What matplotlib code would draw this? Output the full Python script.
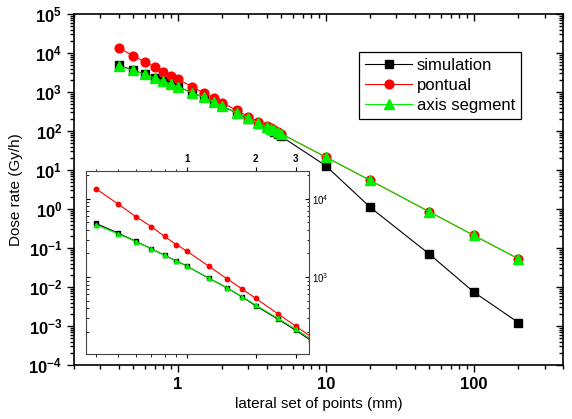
import matplotlib
matplotlib.use("Agg")
import matplotlib.pyplot as plt
from matplotlib.ticker import LogLocator, FixedLocator, FixedFormatter, NullFormatter, LogFormatterMathtext

plt.rcParams["font.family"] = ["Liberation Sans", "DejaVu Sans"]
plt.rcParams["mathtext.fontset"] = "custom"
plt.rcParams["mathtext.rm"] = "Liberation Sans"
plt.rcParams["mathtext.bf"] = "Liberation Sans:bold"

# lateral distance (mm)
distance = [0.4, 0.5, 0.6, 0.7, 0.8, 0.9, 1.0, 1.25, 1.5, 1.75, 2.0, 2.5, 3.0, 3.5,
            4.0, 4.25, 4.5, 4.75, 5.0, 10, 20, 50, 100, 200]

# dose rate (Gy/h)
simulation = [4850, 3650, 2850, 2300, 1890, 1610, 1380, 965, 725, 555, 430, 291, 208, 154,
              120, 106, 94, 84, 73, 12.9, 1.1, 0.070, 0.0074, 0.00122]
pontual = [13500, 8600, 5900, 4400, 3300, 2600, 2150, 1370, 950, 700, 535, 340, 235, 172,
           132, 117, 104, 94, 85, 21.5, 5.4, 0.85, 0.21, 0.053]
axis_segment = [4650, 3570, 2830, 2300, 1890, 1620, 1380, 970, 730, 560, 440, 297, 215, 160,
                127, 114, 103, 94, 85, 21.7, 5.4, 0.85, 0.21, 0.053]

series = [
    ("simulation", simulation, "black", "s", 5.5),
    ("pontual", pontual, "#ff0000", "o", 6.3),
    ("axis segment", axis_segment, "#00ee00", "^", 6.8),
]

inset_ticks = [1, 2, 3]
main_pos = [0.1294, 0.1289, 0.8549, 0.8377]


def log_minor(ax_obj):
    ax_obj.xaxis.set_minor_locator(LogLocator(base=10, subs=range(2, 10), numticks=20))
    ax_obj.yaxis.set_minor_locator(LogLocator(base=10, subs=range(2, 10), numticks=20))
    ax_obj.xaxis.set_minor_formatter(NullFormatter())
    ax_obj.yaxis.set_minor_formatter(NullFormatter())


fig = plt.figure(figsize=(5.72, 4.19), dpi=100)
ax = fig.add_axes(main_pos)

for name, values, color, marker, ms in series:
    ax.plot(distance, values, color=color, marker=marker, markersize=ms, lw=0.8,
            markeredgecolor=color, label=name)

ax.set_xscale("log")
ax.set_yscale("log")
ax.set_xlim(0.2, 400)
ax.set_ylim(1e-4, 1e5)
ax.yaxis.set_major_locator(LogLocator(base=10, numticks=20))
ax.xaxis.set_major_locator(FixedLocator([0.1, 1, 10, 100, 1000]))
ax.xaxis.set_major_formatter(FixedFormatter(["0.1", "1", "10", "100", "1000"]))
ax.yaxis.set_major_formatter(LogFormatterMathtext())
log_minor(ax)

ax.tick_params(which="both", top=False, right=False, direction="out", width=1.0)
ax.tick_params(which="major", length=5)
ax.tick_params(which="minor", length=3)
for lab in ax.get_xticklabels() + ax.get_yticklabels():
    lab.set_fontweight("bold")
    lab.set_fontsize(12)
for sp in ax.spines.values():
    sp.set_linewidth(1.2)

ax.set_xlabel("lateral set of points (mm)", fontsize=11, labelpad=4)
ax.set_ylabel("Dose rate (Gy/h)", fontsize=11, labelpad=4)

leg = ax.legend(loc="upper right", bbox_to_anchor=(0.914, 0.892), borderaxespad=0,
                fontsize=12, handlelength=2.8, numpoints=1, fancybox=False, framealpha=1,
                edgecolor="black", borderpad=0.35, labelspacing=0.3, handletextpad=0.3)
leg.get_frame().set_linewidth(0.9)

# inward ticks on top and right of the main frame
over = fig.add_axes(main_pos, sharex=ax, sharey=ax)
over.patch.set_visible(False)
for sp in over.spines.values():
    sp.set_visible(False)
over.tick_params(which="both", left=False, bottom=False, top=True, right=True,
                 labelleft=False, labelbottom=False, direction="in", width=1.0)
over.tick_params(which="major", length=5)
over.tick_params(which="minor", length=3)

# inset
ins = fig.add_axes([0.1503, 0.1551, 0.3899, 0.4368])
for name, values, color, marker, ms in series:
    ins.plot(distance, values, color=color, marker=marker, markersize=3.2, lw=0.8,
             markeredgecolor=color)
ins.set_xscale("log")
ins.set_yscale("log")
ins.set_xlim(0.363, 3.42)
ins.set_ylim(104, 22600)
ins.xaxis.set_major_locator(FixedLocator(inset_ticks))
ins.xaxis.set_major_formatter(FixedFormatter([str(t) for t in inset_ticks]))
ins.yaxis.set_major_locator(LogLocator(base=10, numticks=10))
ins.yaxis.set_major_formatter(LogFormatterMathtext())
log_minor(ins)
ins.tick_params(axis="x", which="both", top=True, bottom=True, labeltop=True,
                labelbottom=False, direction="out", labelsize=7, pad=2)
ins.tick_params(axis="y", which="both", left=True, right=True, labelleft=False,
                labelright=True, direction="in", labelsize=7, pad=2)
ins.tick_params(which="major", length=3, width=0.8)
ins.tick_params(which="minor", length=1.8, width=0.6)
for lab in ins.get_xticklabels():
    lab.set_fontweight("bold")
for sp in ins.spines.values():
    sp.set_linewidth(0.8)
    sp.set_color("#444444")

fig.savefig("out.png", dpi=100)
